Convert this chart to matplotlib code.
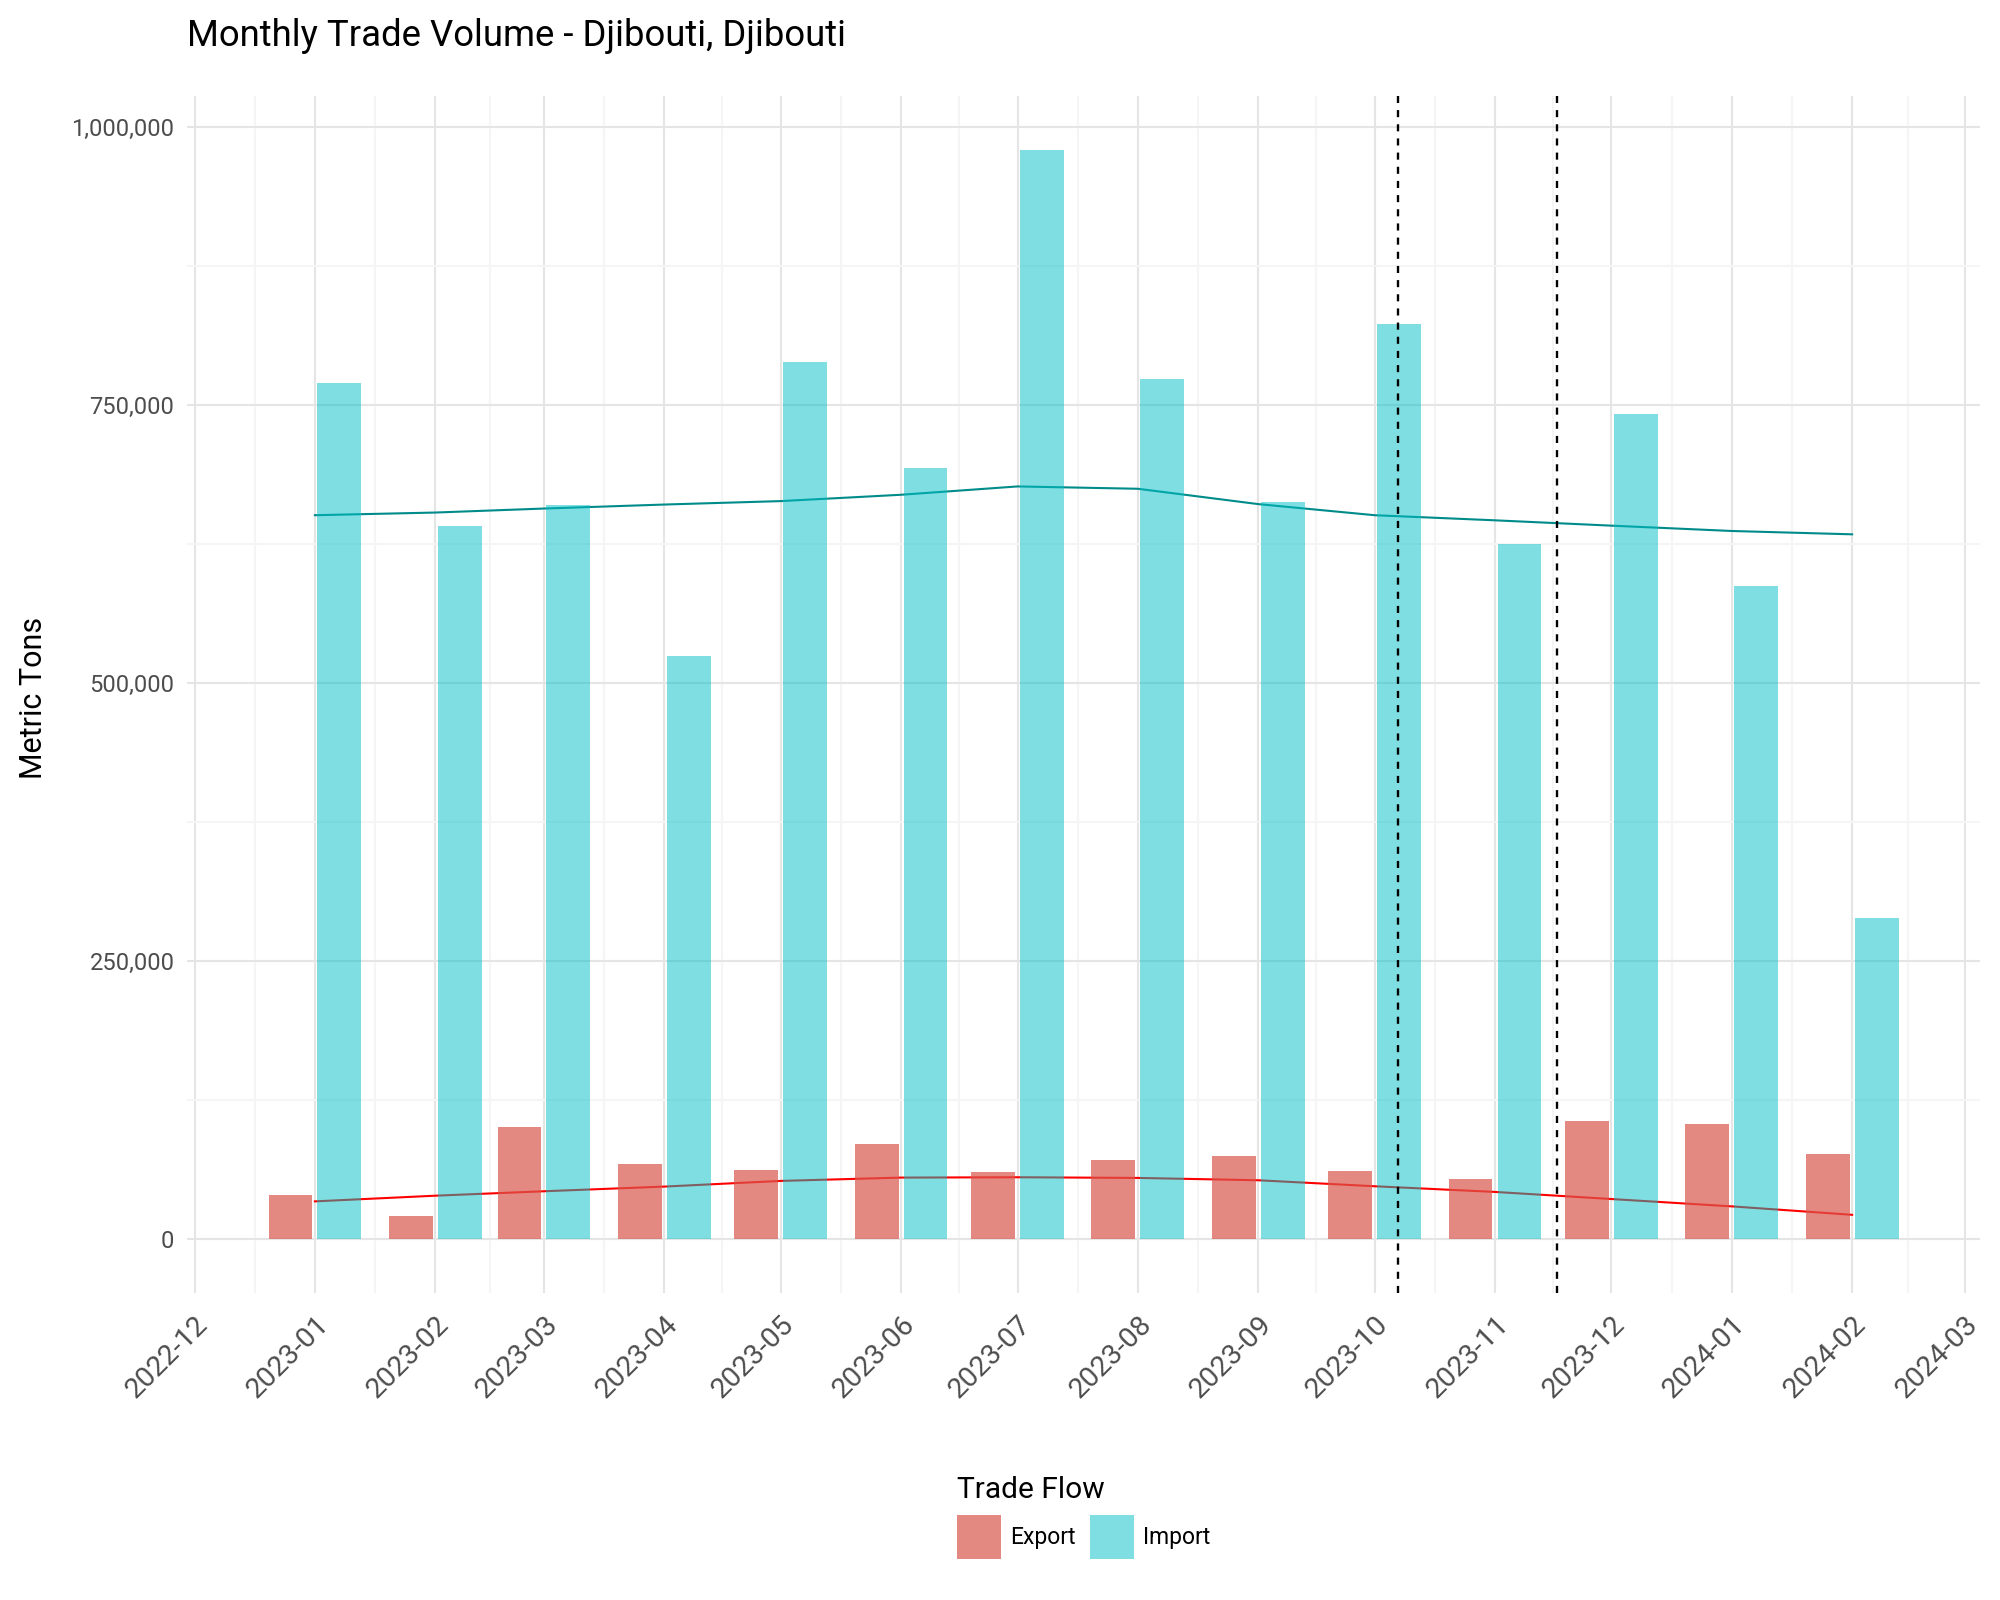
import numpy as np
import pandas as pd
import matplotlib
matplotlib.use("Agg")
import matplotlib.pyplot as plt
import matplotlib.dates as mdates
from matplotlib.ticker import FixedLocator, FuncFormatter
from matplotlib.patches import Patch

plt.rcParams['font.family'] = ['Roboto', 'DejaVu Sans']

# monthly data
months = pd.to_datetime(["2023-01-01", "2023-02-01", "2023-03-01", "2023-04-01",
                         "2023-05-01", "2023-06-01", "2023-07-01", "2023-08-01",
                         "2023-09-01", "2023-10-01", "2023-11-01", "2023-12-01",
                         "2024-01-01", "2024-02-01"])
export_tons = [39600, 20500, 100200, 66700, 61300, 84800, 59500, 70300,
               73900, 60400, 54000, 105700, 102900, 75700]
import_tons = [770100, 641400, 659800, 524100, 788500, 693100, 979300, 773500,
               663200, 823000, 625300, 742500, 587300, 288500]
# smoothed trend lines
export_trend = [33500, 38600, 42600, 46800, 51900, 54900, 55200, 54600,
                52500, 47100, 42000, 35600, 29000, 21400]
import_trend = [651000, 653400, 657000, 660600, 663700, 669400, 676900, 674800,
                661000, 651000, 646400, 641600, 636800, 633800]
events = pd.to_datetime(["2023-10-07", "2023-11-17"])

tick_months = pd.date_range("2022-12-01", "2024-03-01", freq="MS")

export_col = "#D9574D"
import_col = "#00BFC4"

fig = plt.figure(figsize=(20, 16), dpi=100)
ax = fig.add_axes([187 / 2000, 1 - 1293 / 1600, (1980 - 187) / 2000, (1293 - 96) / 1600])

x = mdates.date2num(months)
bar_w = 11.3
off = 6.3

# trend lines underneath the bars
ax.plot(x, export_trend, color="#FF0000", lw=1.5, zorder=2)
ax.plot(x, import_trend, color="#008B8B", lw=1.5, zorder=2)

ax.bar(x - off, export_tons, width=bar_w, color=export_col, alpha=0.7, zorder=3, linewidth=0)
ax.bar(x + off, import_tons, width=bar_w, color=import_col, alpha=0.5, zorder=3, linewidth=0)

for ev in events:
    ax.axvline(mdates.date2num(ev), color="black", lw=1.7, dashes=(3, 3), zorder=4)

# limits with ggplot-style 5% expansion
xmin = x.min() - off - bar_w / 2
xmax = x.max() + off + bar_w / 2
xpad = 0.05 * (xmax - xmin)
ax.set_xlim(xmin - xpad, xmax + xpad)
ymax = max(import_tons)
ax.set_ylim(-0.05 * ymax, 1.05 * ymax)

tick_x = mdates.date2num(tick_months)
ax.xaxis.set_major_locator(FixedLocator(tick_x))
ax.xaxis.set_minor_locator(FixedLocator((tick_x[:-1] + tick_x[1:]) / 2))
ax.set_xticklabels([d.strftime("%Y-%m") for d in tick_months], rotation=45,
                   ha="right", va="top", rotation_mode="anchor")
ax.yaxis.set_major_locator(FixedLocator([0, 250000, 500000, 750000, 1000000]))
ax.yaxis.set_minor_locator(FixedLocator([125000, 375000, 625000, 875000]))
ax.yaxis.set_major_formatter(FuncFormatter(lambda v, p: f"{int(v):,}"))

ax.grid(True, which="major", color="#E5E5E5", lw=1.5, zorder=0)
ax.grid(True, which="minor", color="#F5F5F5", lw=1.5, zorder=0)
ax.set_axisbelow(True)
for s in ax.spines.values():
    s.set_visible(False)
ax.tick_params(which="both", length=0, labelcolor="#4D4D4D")
ax.tick_params(axis="x", pad=13, labelsize=20.5)
ax.tick_params(axis="y", pad=9, labelsize=17)

fig.text(187 / 2000, 1 - 36 / 1600, "Monthly Trade Volume - Djibouti, Djibouti",
         fontsize=26.3, va="center", ha="left")
fig.text(34 / 2000, 1 - 698 / 1600, "Metric Tons", fontsize=22, rotation=90,
         va="center", ha="center")

handles = [Patch(facecolor=export_col, alpha=0.7, linewidth=0),
           Patch(facecolor=import_col, alpha=0.5, linewidth=0)]
leg = ax.legend(handles, ["Export", "Import"], title="Trade Flow", ncol=2,
                loc="upper center", bbox_to_anchor=(0.5, -0.143), frameon=False,
                fontsize=16.5, title_fontsize=21.5, handlelength=1.9,
                handleheight=2.58, handletextpad=0.4, columnspacing=0.65,
                borderpad=0, alignment="left")

fig.savefig("out.png", dpi=100, facecolor="white")
